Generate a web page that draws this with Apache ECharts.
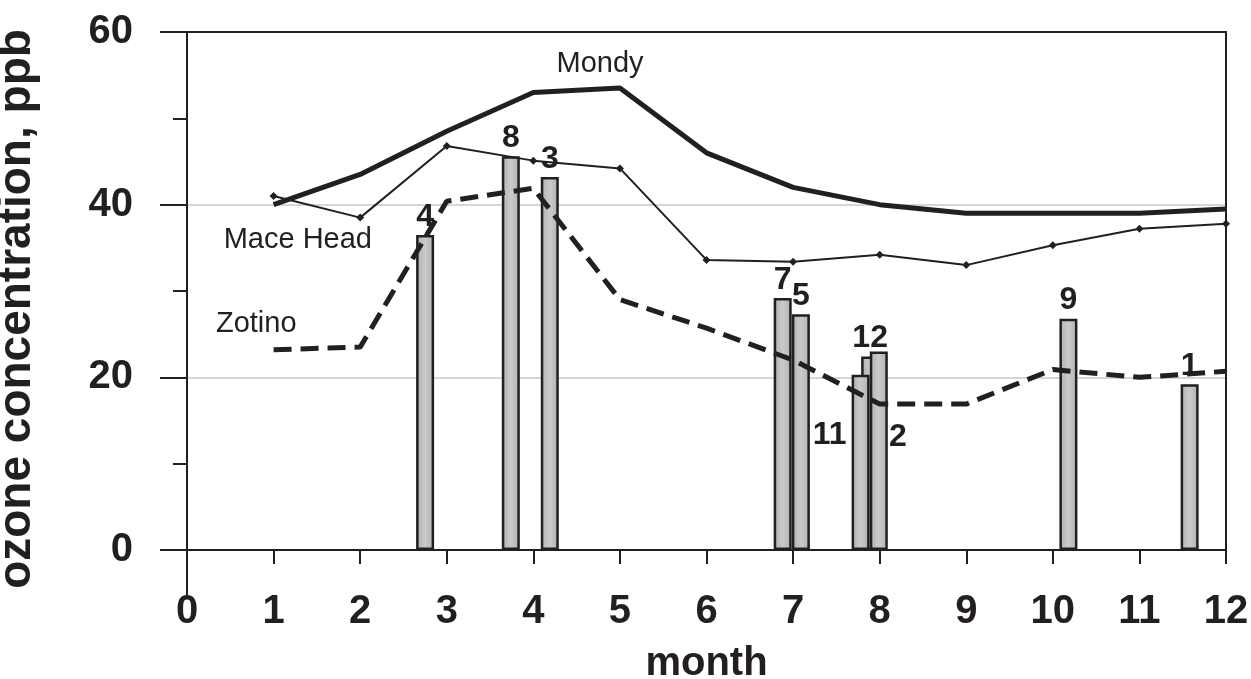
<!DOCTYPE html>
<html>
<head>
<meta charset="utf-8">
<script src="https://cdn.jsdelivr.net/npm/echarts@6/dist/echarts.min.js"></script>
<style>
html,body{margin:0;padding:0;background:#fff;overflow:hidden;}
#chart{width:1251px;height:679px;}
</style>
</head>
<body>
<div id="chart"></div>
<script>
// ---- data ----
const months = [1, 2, 3, 4, 5, 6, 7, 8, 9, 10, 11, 12];
const mondy = [40.0, 43.5, 48.5, 53.0, 53.5, 46.0, 42.0, 40.0, 39.0, 39.0, 39.0, 39.5];
const maceHead = [41.0, 38.5, 46.8, 45.1, 44.2, 33.6, 33.4, 34.2, 33.0, 35.3, 37.2, 37.8];
const zotino = [23.2, 23.5, 40.4, 41.9, 29.0, 25.7, 22.0, 16.9, 16.9, 20.9, 20.0, 20.7];

// measurement sites (bars): month position, ozone value, site number
const siteMonth = [2.75, 3.74, 4.19, 6.88, 7.09, 7.89, 7.78, 7.99, 10.18, 11.58];
const siteValue = [36.5, 45.6, 43.2, 29.2, 27.3, 22.4, 20.3, 23.0, 26.8, 19.2];
const siteLabel = ['4', '8', '3', '7', '5', '12', '11', '2', '9', '1'];

const xTicks = [0, 1, 2, 3, 4, 5, 6, 7, 8, 9, 10, 11, 12];
const yTicks = [0, 20, 40, 60];

// annotation texts placed in data coordinates
const annoText = ['Mondy', 'Mace Head', 'Zotino'];
const annoX = [4.77, 1.28, 0.80];
const annoY = [56.3, 35.9, 26.2];

// ---- styling / layout ----
const FONT = '"Liberation Sans", Arial, Helvetica, sans-serif';
const INK = '#231f20';
const labelOffsets = { '11': [-31, 78], '2': [19, 104] };

const chart = echarts.init(document.getElementById('chart'), null, { renderer: 'canvas', width: 1251, height: 679 });

const barData = siteMonth.map((m, i) => {
  const item = { value: [m, siteValue[i]], name: siteLabel[i] };
  if (labelOffsets[siteLabel[i]]) {
    item.label = { offset: labelOffsets[siteLabel[i]] };
  }
  return item;
});

const option = {
  animation: false,
  backgroundColor: '#fff',
  grid: { left: 187, right: 25, top: 32, bottom: 129, containLabel: false, outerBoundsMode: 'none' },
  xAxis: [{
    type: 'value', min: xTicks[0], max: xTicks[xTicks.length - 1], interval: 1,
    position: 'bottom',
    name: 'month', nameLocation: 'middle', nameGap: 94,
    nameTextStyle: { fontFamily: FONT, fontSize: 40, fontWeight: 'bold', color: INK },
    axisLine: { show: true, onZero: false, lineStyle: { color: INK, width: 2 } },
    axisTick: { show: true, inside: false, length: 14, lineStyle: { color: INK, width: 2 } },
    axisLabel: { fontFamily: FONT, fontSize: 40, fontWeight: 'bold', color: INK, margin: 42 },
    splitLine: { show: false }
  }, {
    type: 'value', min: xTicks[0], max: xTicks[xTicks.length - 1], interval: 1,
    position: 'top',
    axisLine: { show: true, onZero: false, lineStyle: { color: INK, width: 2 } },
    axisTick: { show: false }, axisLabel: { show: false }, splitLine: { show: false }
  }],
  yAxis: [{
    type: 'value', min: yTicks[0], max: yTicks[yTicks.length - 1], interval: 20,
    position: 'left',
    axisLine: { show: true, onZero: false, lineStyle: { color: INK, width: 2 } },
    axisTick: { show: true, inside: false, length: 27, lineStyle: { color: INK, width: 2 } },
    minorTick: { show: true, splitNumber: 2, length: 14, lineStyle: { color: INK, width: 2 } },
    axisLabel: { fontFamily: FONT, fontSize: 40, fontWeight: 'bold', color: INK, margin: 54 },
    splitLine: { show: true, lineStyle: { color: '#c8c8c8', width: 1.5 } }
  }, {
    type: 'value', min: yTicks[0], max: yTicks[yTicks.length - 1], interval: 20,
    position: 'right',
    axisLine: { show: true, onZero: false, lineStyle: { color: INK, width: 2 } },
    axisTick: { show: false }, axisLabel: { show: false }, splitLine: { show: false }
  }],
  series: [{
    type: 'bar',
    name: 'sites',
    xAxisIndex: 0, yAxisIndex: 0,
    barWidth: 18,
    data: barData,
    itemStyle: {
      color: {
        type: 'linear', x: 0, y: 0, x2: 1, y2: 0,
        colorStops: [
          { offset: 0, color: '#b0b0b0' },
          { offset: 0.5, color: '#cacaca' },
          { offset: 1, color: '#b0b0b0' }
        ]
      },
      borderColor: INK, borderWidth: 2.5
    },
    label: {
      show: true, position: 'top', distance: 2,
      formatter: p => p.name,
      fontFamily: FONT, fontSize: 32, fontWeight: 'bold', color: INK
    },
    z: 2
  }, {
    type: 'line', name: 'Mondy',
    data: months.map((m, i) => [m, mondy[i]]),
    showSymbol: false, symbol: 'none',
    lineStyle: { color: INK, width: 5 },
    z: 3
  }, {
    type: 'line', name: 'Mace Head',
    data: months.map((m, i) => [m, maceHead[i]]),
    symbol: 'diamond', symbolSize: 8,
    itemStyle: { color: INK },
    lineStyle: { color: INK, width: 2 },
    z: 3
  }, {
    type: 'line', name: 'Zotino',
    data: months.map((m, i) => [m, zotino[i]]),
    showSymbol: false, symbol: 'none',
    lineStyle: { color: INK, width: 5, type: [18, 9] },
    z: 3
  }]
};

chart.setOption(option);

// annotations and extended axis line, positioned through the chart's scales
const origin = chart.convertToPixel({ xAxisIndex: 0, yAxisIndex: 0 }, [0, 0]);
const graphics = annoText.map((t, i) => {
  const p = chart.convertToPixel({ xAxisIndex: 0, yAxisIndex: 0 }, [annoX[i], annoY[i]]);
  return {
    type: 'text', x: p[0], y: p[1], z: 10,
    style: { text: t, font: '29px ' + FONT, fill: INK, textAlign: 'center', textVerticalAlign: 'middle' }
  };
});
graphics.push({
  type: 'line', z: 10,
  shape: { x1: origin[0], y1: origin[1], x2: origin[0], y2: origin[1] + 47 },
  style: { stroke: INK, lineWidth: 2 }
});
graphics.push({
  type: 'text', x: 17, y: 309, rotation: Math.PI / 2, z: 10,
  style: { text: 'ozone concentration, ppb', font: 'bold 46px ' + FONT, fill: INK, textAlign: 'center', textVerticalAlign: 'middle' }
});
chart.setOption({ graphic: graphics });
</script>
</body>
</html>
